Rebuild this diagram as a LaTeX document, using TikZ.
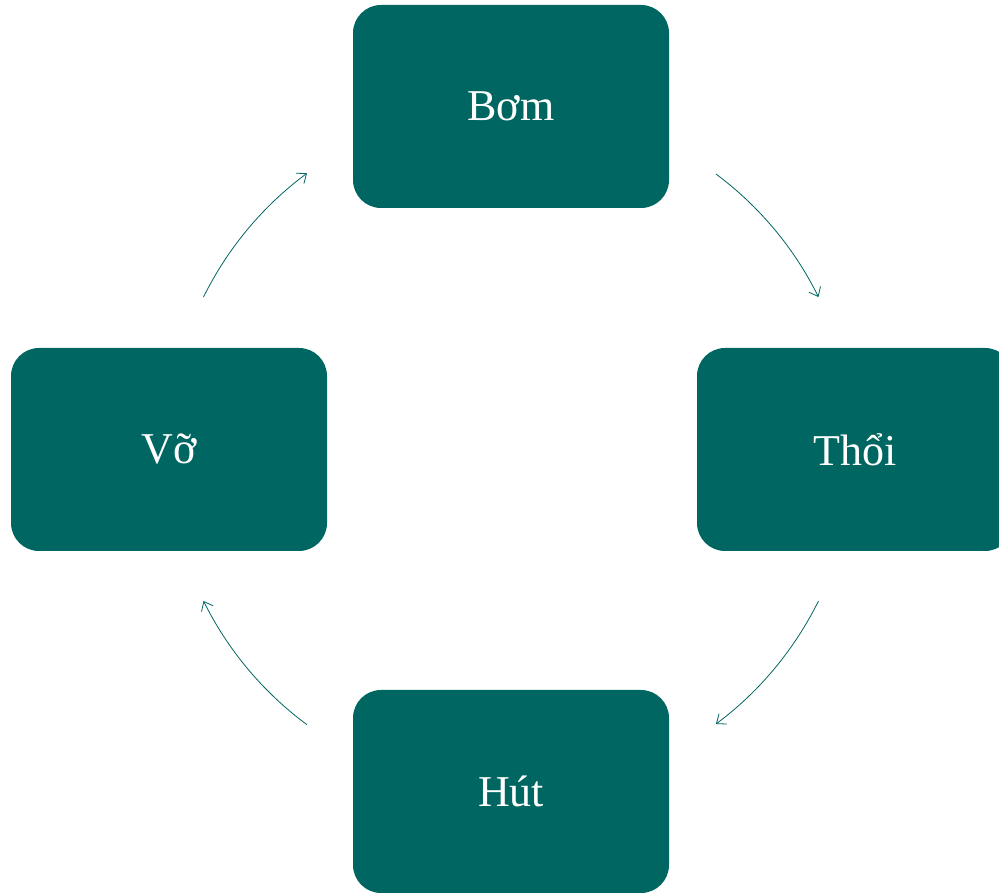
\documentclass[tikz,border=0pt]{standalone}
\usepackage{fontspec}
\setmainfont{Liberation Serif}
\usetikzlibrary{arrows.meta,calc}
\definecolor{teal1}{HTML}{006661}
\begin{document}
\begin{tikzpicture}[x=1pt,y=1pt,
  box/.style={fill=teal1,draw=none,rounded corners=28pt,minimum width=316pt,minimum height=203pt,
    text=white,font=\fontsize{44}{50}\selectfont,inner sep=0pt},
  cyc/.style={draw=teal1,line width=0.8pt,-{Straight Barb[length=8pt,width=13pt]}}]
\useasboundingbox (0,0) rectangle (999,892);
\clip (0,0) rectangle (999,892);
\coordinate (c) at (511,443);
\node[box] (bom) at (511,785.5) {Bơm};
\node[box] (thoi) at (855,442.5) {Thổi};
\node[box] (hut) at (511,100.5) {Hút};
\node[box] (vo) at (169,442.5) {Vỡ};
\draw[cyc] ($(c)+(53.3:343)$) arc[start angle=53.3,end angle=26.3,radius=343];
\draw[cyc] ($(c)+(-26.3:343)$) arc[start angle=-26.3,end angle=-53.3,radius=343];
\draw[cyc] ($(c)+(-126.5:343)$) arc[start angle=-126.5,end angle=-153.7,radius=343];
\draw[cyc] ($(c)+(153.7:343)$) arc[start angle=153.7,end angle=126.5,radius=343];
\end{tikzpicture}
\end{document}
